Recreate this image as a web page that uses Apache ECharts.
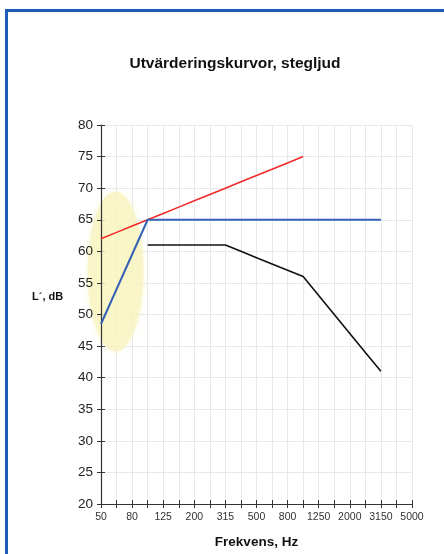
<!DOCTYPE html>
<html>
<head>
<meta charset="utf-8">
<script src="https://cdn.jsdelivr.net/npm/echarts@6/dist/echarts.min.js"></script>
<style>
  html, body { margin: 0; padding: 0; background: #fff; }
  #frame { position: absolute; left: 5px; top: 9px; width: 460px; height: 560px;
           border-top: 3px solid #1d5fb8; border-left: 3px solid #1d5fb8; }
  #chart { position: absolute; left: 0; top: 0; width: 444px; height: 554px; }
</style>
</head>
<body>
<div id="frame"></div>
<div id="chart"></div>
<script>
// tersband, Hz
const freqs = ['50', '63', '80', '100', '125', '160', '200', '250', '315', '400', '500',
  '630', '800', '1000', '1250', '1600', '2000', '2500', '3150', '4000', '5000'];

// röd kurva
const redCurve = [62, 63, 64, 65, 66, 67, 68, 69, 70, 71, 72, 73, 74, 75,
  null, null, null, null, null, null, null];
// blå kurva
const blueCurve = [48.5, 54, 59.5, 65, 65, 65, 65, 65, 65, 65, 65, 65, 65, 65,
  65, 65, 65, 65, 65, null, null];
// svart kurva
const blackCurve = [null, null, null, 61, 61, 61, 61, 61, 61, 60, 59, 58, 57, 56,
  53, 50, 47, 44, 41, null, null];

const font = 'Liberation Sans, Arial, sans-serif';
const chart = echarts.init(document.getElementById('chart'));

const option = {
  animation: false,
  title: [
    {
      text: 'Utvärderingskurvor, stegljud',
      left: 230, textAlign: 'center', top: 51,
      textStyle: { fontFamily: font, fontSize: 15.5, fontWeight: 'bold', color: '#111' }
    },
    {
      text: 'L´, dB',
      left: 32, top: 291, padding: 0,
      textStyle: { fontFamily: font, fontSize: 11, fontWeight: 'bold', color: '#111' }
    }
  ],
  grid: { left: 101, right: 32, top: 125, bottom: 43 },
  xAxis: [
    {
      type: 'category',
      data: freqs,
      boundaryGap: false,
      z: 3,
      name: 'Frekvens, Hz',
      nameLocation: 'middle',
      nameGap: 31,
      nameTextStyle: { fontFamily: font, fontSize: 13.5, fontWeight: 'bold', color: '#111' },
      axisLine: { lineStyle: { color: '#333', width: 1.2 } },
      axisTick: { interval: 0, length: 4, lineStyle: { color: '#333' } },
      axisLabel: { interval: 1, margin: 8, fontFamily: font, fontSize: 10.5, color: '#333' },
      splitLine: { show: false }
    },
    {
      type: 'category',
      data: freqs,
      boundaryGap: false,
      position: 'bottom',
      axisLine: { show: false },
      axisTick: { inside: true, interval: 0, length: 4, lineStyle: { color: '#333' } },
      axisLabel: { show: false },
      splitLine: { show: true, interval: 0, lineStyle: { color: '#e6e9ec' } }
    }
  ],
  yAxis: [
    {
      type: 'value',
      min: 20, max: 80, interval: 5,
      z: 3,
      axisLine: { show: true, lineStyle: { color: '#333', width: 1.2 } },
      axisTick: { show: true, length: 4, lineStyle: { color: '#333' } },
      axisLabel: { margin: 8, fontFamily: font, fontSize: 13.5, color: '#222' },
      splitLine: { show: false }
    },
    {
      type: 'value',
      min: 20, max: 80, interval: 5,
      position: 'left',
      axisLine: { show: false },
      axisTick: { show: true, inside: true, length: 4, lineStyle: { color: '#333' } },
      axisLabel: { show: false },
      splitLine: { lineStyle: { color: '#e6e9ec' } }
    }
  ],
  series: [
    {
      type: 'line', data: redCurve, showSymbol: false, z: 4,
      lineStyle: { color: '#f42a2a', width: 1.6 }
    },
    {
      type: 'line', data: blueCurve, showSymbol: false, z: 4,
      lineStyle: { color: '#3461b4', width: 2 }
    },
    {
      type: 'line', data: blackCurve, showSymbol: false, z: 4,
      lineStyle: { color: '#111', width: 1.6 }
    }
  ]
};

chart.setOption(option);

// markering runt de lägsta banden
const c = chart.convertToPixel({ xAxisIndex: 0, yAxisIndex: 0 }, [1, 56.8]);
chart.setOption({
  graphic: [{
    type: 'ellipse',
    shape: { cx: c[0] - 1, cy: c[1], rx: 28, ry: 80 },
    style: { fill: 'rgba(248,243,190,0.7)', shadowBlur: 6, shadowColor: 'rgba(248,243,190,0.7)' },
    z: 1,
    silent: true
  }]
});
</script>
</body>
</html>
